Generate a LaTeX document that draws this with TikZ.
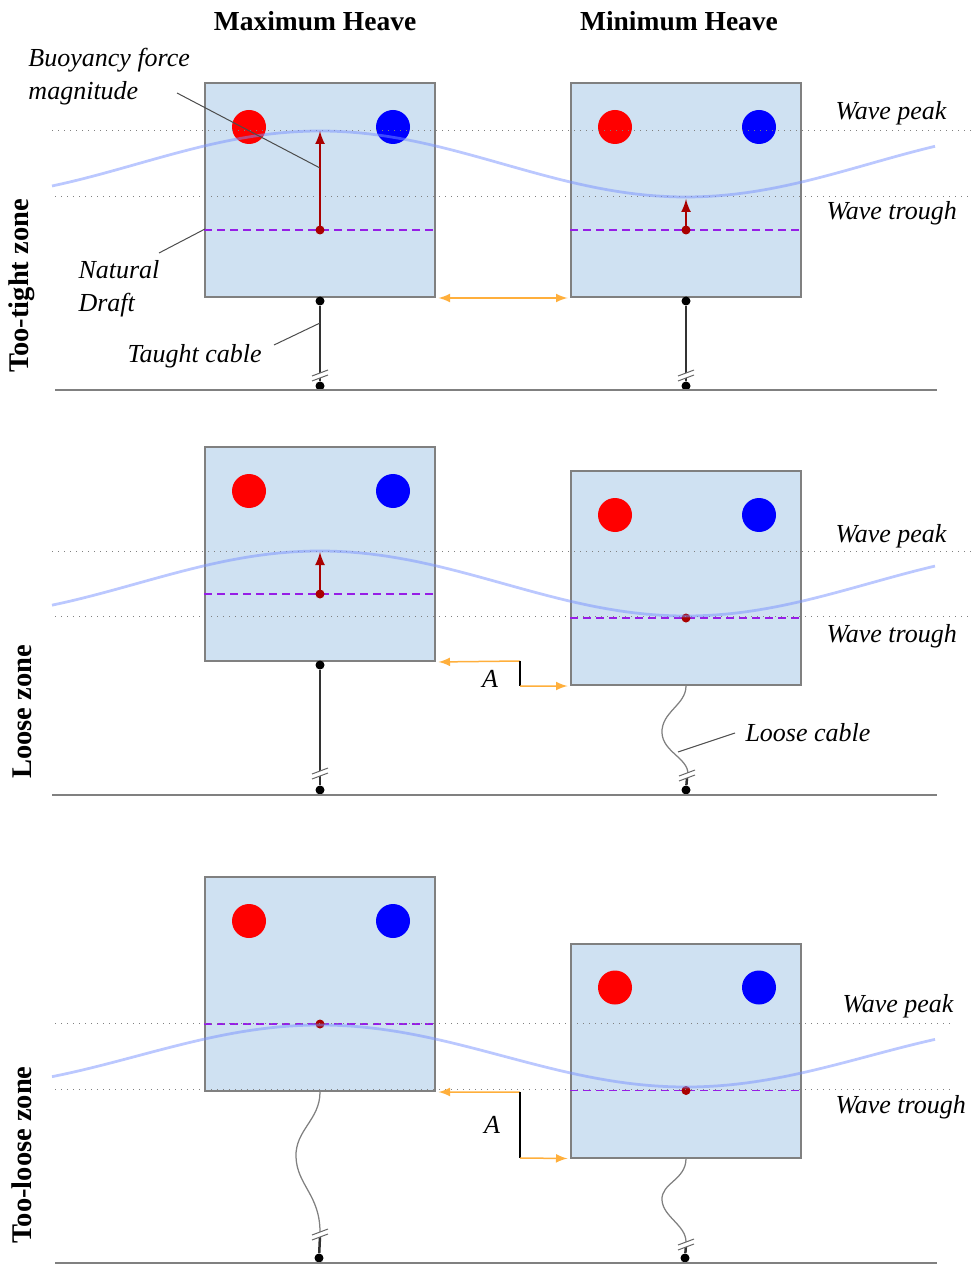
\documentclass[tikz,border=0pt]{standalone}
\usepackage{fontspec}
\setmainfont{Liberation Serif}
\usetikzlibrary{calc,arrows}
\definecolor{boxblue}{RGB}{207,225,242}
\definecolor{boxedge}{RGB}{128,128,128}
\definecolor{wavecol}{RGB}{120,145,255}
\definecolor{draftcol}{RGB}{150,30,230}
\definecolor{forcecol}{RGB}{170,0,0}
\definecolor{spancol}{RGB}{255,175,60}
% floating body: box, two balls, natural draft line with centre dot
\newcommand{\floater}[2]{
	\node [floatbox] (#1) at (#2) {};
	\node [redball] (#1-red) at ($(#1.north west)+(45,45)$) {};
	\node [blueball] (#1-blue) at ($(#1.north east)+(-43,45)$) {};
	\draw [draft] ($(#1.south west)+(0,-68)$) -- ($(#1.south east)+(0,-68)$);
	\node [forcedot] (#1-cg) at ($(#1.south)+(0,-68)$) {};}
% break mark on a cable
\newcommand{\cablecut}[1]{
	\fill [white] ($(#1)+(-8,0)$) -- ($(#1)+(8,-6)$) -- ($(#1)+(8,-1)$) -- ($(#1)+(-8,5)$) -- cycle;
	\draw [cutline] ($(#1)+(-8,0)$) -- ++(16,-6) ($(#1)+(-8,5)$) -- ++(16,-6);}

\begin{document}
\begin{tikzpicture}[x=0.4pt,y=-0.4pt,>=latex,
	floatbox/.style={draw=boxedge,line width=0.8pt,fill=boxblue,minimum width=92pt,minimum height=85.6pt,inner sep=0pt},
	redball/.style={circle,fill=red,minimum size=13.6pt,inner sep=0pt},
	blueball/.style={circle,fill=blue,minimum size=13.6pt,inner sep=0pt},
	levelline/.style={gray,dotted,line width=0.4pt},
	wave/.style={wavecol,line width=1.1pt,opacity=0.5},
	draft/.style={draftcol,dash pattern=on 3.2pt off 2pt,line width=0.6pt},
	force/.style={->,forcecol,line width=0.8pt},
	forcedot/.style={circle,fill=forcecol,inner sep=0pt,minimum size=3.6pt},
	anchordot/.style={circle,fill=black,inner sep=0pt,minimum size=3.6pt},
	taut/.style={black!80,line width=1pt},
	loose/.style={gray,line width=0.5pt},
	cutline/.style={gray!80!black,line width=0.4pt},
	span/.style={spancol,line width=0.6pt},
	ground/.style={gray,line width=0.7pt},
	leader/.style={black!70,line width=0.4pt},
	heading/.style={font=\bfseries\fontsize{11}{13}\selectfont},
	zone/.style={font=\bfseries\fontsize{11.4}{13}\selectfont,rotate=90},
	note/.style={font=\itshape\fontsize{10.4}{13.2}\selectfont,anchor=west,align=left,inner sep=0pt}]
	\useasboundingbox (0,0) rectangle (971,1264);

	\node [heading] (maxhead) at (315,21) {Maximum Heave};
	\node [heading] (minhead) at (679,21) {Minimum Heave};

	% too-tight zone
	\node [zone] (tightzone) at (22,286) {Too-tight zone};
	\floater{tl}{320,190}
	\floater{tr}{686,190}
	\draw [levelline] (52,131) -- (971,131);
	\draw [levelline] (55,197) -- (971,197);
	\draw [wave] plot [domain=52:935,samples=90] (\x,{164-33*cos((\x-320)/366*180)});
	\coordinate (tl-surf) at (320,131);
	\coordinate (tr-surf) at (686,199);
	\draw [force] (tl-cg.center) -- (tl-surf);
	\draw [force] (tr-cg.center) -- (tr-surf);
	\node [anchordot] (tl-hook) at (320,301) {};
	\node [anchordot] (tl-bed) at (320,386) {};
	\node [anchordot] (tr-hook) at (686,301) {};
	\node [anchordot] (tr-bed) at (686,386) {};
	\draw [taut] (tl-hook) -- (tl-bed);
	\draw [taut] (tr-hook) -- (tr-bed);
	\cablecut{320,376}
	\cablecut{686,376}
	\draw [ground] (55,390) -- (937,390);
	\draw [span,<->,shorten <=1pt,shorten >=1pt] (tl.south east) -- (tr.south west);
	\node [note] (buoylbl) at (28,77) {Buoyancy force\\magnitude};
	\node [note] (draftlbl) at (78,289) {Natural\\Draft};
	\node [note] (tautlbl) at (127,356) {Taught cable};
	\node [note] (peak1) at (835,113) {Wave peak};
	\node [note] (trough1) at (826,213) {Wave trough};
	\coordinate (buoyend) at (177,93);
	\coordinate (draftend) at (159,253);
	\coordinate (tautend) at (274,345);
	\draw [leader] (buoyend) -- (320,168);
	\draw [leader] (draftend) -- (205,229);
	\draw [leader] (tautend) -- (320,323);

	% loose zone
	\node [zone] (loosezone) at (22,712) {Loose zone};
	\floater{ml}{320,554}
	\floater{mr}{686,578}
	\draw [levelline] (52,551) -- (971,551);
	\draw [levelline] (55,616) -- (971,616);
	\draw [wave] plot [domain=52:935,samples=90] (\x,{583.5-32.5*cos((\x-320)/366*180)});
	\coordinate (ml-surf) at (320,552);
	\draw [force] (ml-cg.center) -- (ml-surf);
	\node [anchordot] (ml-hook) at (320,665) {};
	\node [anchordot] (ml-bed) at (320,790) {};
	\node [anchordot] (mr-bed) at (686,790) {};
	\draw [taut] (ml-hook) -- (ml-bed);
	\cablecut{320,774}
	\coordinate (mr-cut) at (688,774);
	\draw [loose] (mr.south) .. controls (686,705) and (661,712) .. (662,733) .. controls (663,752) and (688,758) .. (mr-cut);
	\draw [taut] ($(mr-cut)+(-1,4)$) -- (mr-bed);
	\cablecut{687,776}
	\draw [ground] (52,795) -- (937,795);
	\coordinate (mA1) at (520,661);
	\coordinate (mA2) at (520,686);
	\draw [span,->,shorten >=1pt] (mA1) -- (ml.south east);
	\draw [black,line width=1pt] (mA1) -- (mA2);
	\draw [span,->,shorten >=1pt] (mA2) -- (mr.south west);
	\node [note,anchor=center] (ampl1) at (490,679) {A};
	\node [note] (looselbl) at (745,733) {Loose cable};
	\node [note] (peak2) at (835,536) {Wave peak};
	\node [note] (trough2) at (826,636) {Wave trough};
	\coordinate (looseend) at (735,733);
	\draw [leader] (looseend) -- (678,752);

	% too-loose zone
	\node [zone] (toolooszone) at (22,1155) {Too-loose zone};
	\floater{bl}{320,984}
	\floater{br}{686,1050.5}
	\draw [levelline] (55,1023) -- (955,1023);
	\draw [levelline] (55,1089) -- (955,1089);
	\draw [wave] plot [domain=52:935,samples=90] (\x,{1056-31*cos((\x-320)/366*180)});
	\node [anchordot] (bl-bed) at (319,1258) {};
	\node [anchordot] (br-bed) at (685,1258) {};
	\coordinate (bl-cut) at (320,1232);
	\coordinate (br-cut) at (686,1242);
	\draw [loose] (bl.south) .. controls (320,1120) and (295,1130) .. (296,1157) .. controls (297,1185) and (320,1195) .. (bl-cut);
	\draw [taut] ($(bl-cut)+(0,4)$) -- (bl-bed);
	\cablecut{320,1235}
	\draw [loose] (br.south) .. controls (686,1180) and (661,1183) .. (662,1200) .. controls (663,1217) and (686,1225) .. (br-cut);
	\draw [taut] ($(br-cut)+(0,3)$) -- (br-bed);
	\cablecut{686,1245}
	\draw [ground] (55,1263) -- (937,1263);
	\coordinate (bA1) at (520,1092);
	\coordinate (bA2) at (520,1158);
	\draw [span,->,shorten >=1pt] (bA1) -- (bl.south east);
	\draw [black,line width=1pt] (bA1) -- (bA2);
	\draw [span,->,shorten >=1pt] (bA2) -- (br.south west);
	\node [note,anchor=center] (ampl2) at (492,1125) {A};
	\node [note] (peak3) at (842,1006) {Wave peak};
	\node [note] (trough3) at (835,1107) {Wave trough};
\end{tikzpicture}
\end{document}
